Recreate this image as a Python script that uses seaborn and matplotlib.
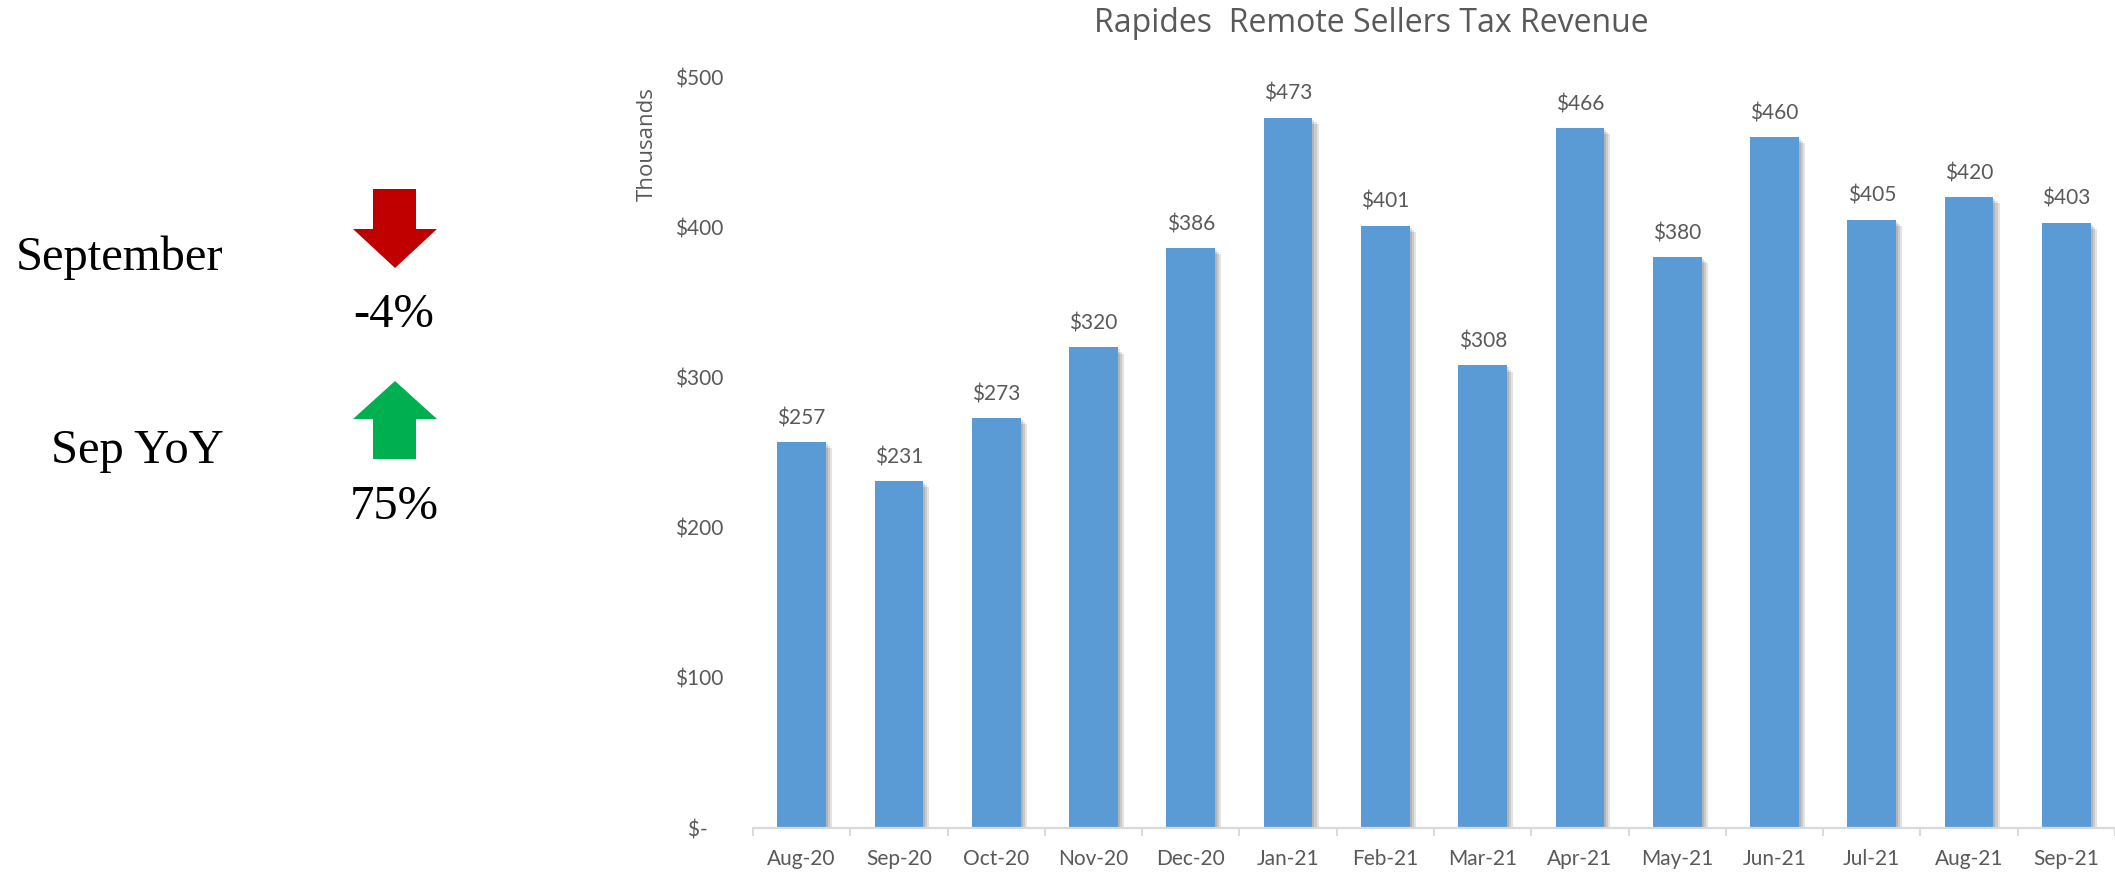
import matplotlib
matplotlib.use("Agg")
import matplotlib.pyplot as plt
import matplotlib.patheffects as pe
from matplotlib.patches import Polygon
from matplotlib.ticker import FixedLocator
import seaborn as sns
import pandas as pd

# Monthly remote sellers tax revenue, in thousands of dollars
months = ["Aug-20", "Sep-20", "Oct-20", "Nov-20", "Dec-20", "Jan-21", "Feb-21",
          "Mar-21", "Apr-21", "May-21", "Jun-21", "Jul-21", "Aug-21", "Sep-21"]
revenue = [257, 231, 273, 320, 386, 473, 401, 308, 466, 380, 460, 405, 420, 403]
y_ticks = [0, 100, 200, 300, 400, 500]
y_tick_labels = ["$-   ", "$100", "$200", "$300", "$400", "$500"]

# Headline changes for the latest month (percent)
summary_labels = ["September", "Sep YoY"]
summary_changes = [-4, 75]

title = "Rapides  Remote Sellers Tax Revenue"
BAR = "#5B9BD5"
GREY_TXT = "#595959"
AXIS_LINE = "#D9D9D9"

sns.set_theme(style="white")
plt.rcParams["font.family"] = ["Lato", "DejaVu Sans"]

W, H = 2115, 872
fig = plt.figure(figsize=(W / 100, H / 100), dpi=100)
fig.patch.set_facecolor("white")

# ---- bar chart -------------------------------------------------------------
ax = fig.add_axes([753 / W, 44 / H, (W - 753) / W, 751 / H])
df = pd.DataFrame({"month": months, "revenue": revenue})
sns.barplot(data=df, x="month", y="revenue", color=BAR, saturation=1,
            width=0.5, ax=ax)

shadow = [pe.SimplePatchShadow(offset=(o, -o), shadow_rgbFace="black", alpha=0.11)
          for o in (1.5, 3, 4.5)] + [pe.Normal()]
for patch in ax.patches:
    patch.set_edgecolor("none")
    patch.set_path_effects(shadow)

ax.bar_label(ax.containers[0], labels=[f"${v:.0f}" for v in revenue],
             padding=10, fontsize=15, color=GREY_TXT, clip_on=False)

ax.set_xlim(-0.5, len(months) - 0.5)
ax.set_ylim(0, 500)
ax.set_yticks(y_ticks)
ax.set_yticklabels(y_tick_labels)
ax.set_xlabel("")
ax.set_ylabel("")
for s in ("left", "top", "right"):
    ax.spines[s].set_visible(False)
ax.spines["bottom"].set_color(AXIS_LINE)
ax.spines["bottom"].set_linewidth(1.6)
ax.tick_params(axis="y", length=0, pad=21, labelsize=15, labelcolor=GREY_TXT)
ax.tick_params(axis="x", which="major", length=0, pad=15, labelsize=15,
               labelcolor=GREY_TXT)
ax.xaxis.set_minor_locator(FixedLocator([i - 0.5 for i in range(len(months) + 1)]))
ax.tick_params(axis="x", which="minor", bottom=True, length=6, width=1.4,
               color=AXIS_LINE, direction="out")
ax.grid(False)

fig.text(1371 / W, 1 - 32 / H, title, ha="center", va="baseline",
         fontsize=23, color=GREY_TXT, family=["Open Sans", "DejaVu Sans"])
fig.text(647 / W, 1 - 144 / H, "Thousands", ha="center", va="center",
         rotation=90, fontsize=16, color=GREY_TXT,
         family=["Open Sans", "DejaVu Sans"])

# ---- headline change indicators --------------------------------------------
side = fig.add_axes([0, 0, 753 / W, 1])
side.set_xlim(0, 753)
side.set_ylim(H, 0)
side.axis("off")


def arrow(top, change):
    """Block arrow starting at pixel row 'top'; points down for a decline."""
    xl, xr, sl, sr, xc = 353, 437, 373, 416, 395
    if change < 0:
        pts = [(sl, top), (sr, top), (sr, top + 40), (xr, top + 40),
               (xc, top + 79), (xl, top + 40), (sl, top + 40)]
        color = "#C00000"
    else:
        pts = [(xc, top), (xr, top + 38), (sr, top + 38), (sr, top + 78),
               (sl, top + 78), (sl, top + 38), (xl, top + 38)]
        color = "#00B050"
    side.add_patch(Polygon(pts, closed=True, facecolor=color, edgecolor="none"))


serif = ["Liberation Serif", "DejaVu Serif"]
rows = [  # label x, label baseline, arrow top, value baseline
    (16, 270, 189, 327),
    (51, 463, 381, 519),
]
for name, change, (lx, ly, at, vy) in zip(summary_labels, summary_changes, rows):
    side.text(lx, ly, name, family=serif, fontsize=35, ha="left",
              va="baseline", color="black")
    arrow(at, change)
    side.text(394, vy, f"{change}%", family=serif, fontsize=35, ha="center",
              va="baseline", color="black")

fig.savefig("out.png", dpi=100, facecolor="white")
